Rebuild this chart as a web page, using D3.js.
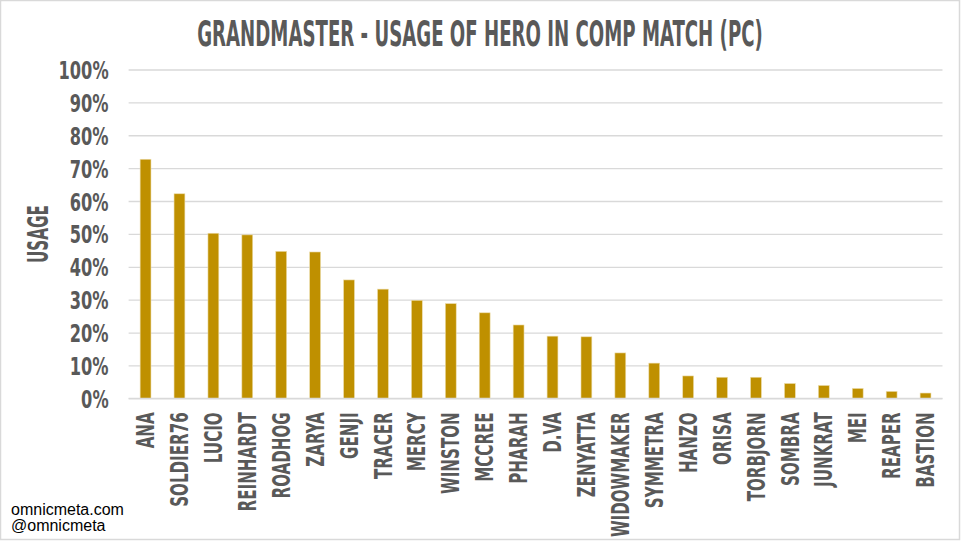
<!DOCTYPE html>
<html>
<head>
<meta charset="utf-8">
<script src="https://cdn.jsdelivr.net/npm/d3@7"></script>
<style>
  body { margin: 0; background: #fff; }
  svg { display: block; }
</style>
</head>
<body>
<script>
// hero usage, grandmaster, comp match (pc)
var heroes = ["ANA", "SOLDIER76", "LUCIO", "REINHARDT", "ROADHOG", "ZARYA", "GENJI", "TRACER",
              "MERCY", "WINSTON", "MCCREE", "PHARAH", "D.VA", "ZENYATTA", "WIDOWMAKER", "SYMMETRA",
              "HANZO", "ORISA", "TORBJORN", "SOMBRA", "JUNKRAT", "MEI", "REAPER", "BASTION"];
var usage = [72.7, 62.2, 50.2, 49.7, 44.7, 44.5, 36.0, 33.2,
             29.8, 28.8, 26.0, 22.3, 18.9, 18.7, 13.8, 10.7,
             6.8, 6.4, 6.4, 4.5, 3.9, 3.0, 2.1, 1.6];
var yTicks = [0, 10, 20, 30, 40, 50, 60, 70, 80, 90, 100];

var W = 961, H = 541;
var cond = "'Liberation Sans Narrow', 'DejaVu Sans Condensed', 'Roboto Condensed', sans-serif";
var grey = "#595959";

var svg = d3.select("body").append("svg")
            .attr("width", W)
            .attr("height", H);

// frame
svg.append("rect")
   .attr("x", 0.5).attr("y", 0.5).attr("width", W - 2).attr("height", H - 2)
   .attr("fill", "#fff").attr("stroke", "#d9d9d9").attr("stroke-width", 1.5);

var x = d3.scaleBand().domain(heroes).range([128.6, 942.5]).paddingInner(0.68).paddingOuter(0.34);
var y = d3.scaleLinear().domain([0, 100]).range([398.3, 69.5]);

// squeeze text to look like the narrow titling font
function squeeze(sel, k) {
  sel.each(function() {
    var len = this.getComputedTextLength();
    d3.select(this).attr("textLength", len * k).attr("lengthAdjust", "spacingAndGlyphs");
  });
}

// gridlines + y labels
var yAxis = svg.append("g")
  .attr("transform", "translate(128.6,0)")
  .call(d3.axisLeft(y).tickValues(yTicks).tickFormat(function(d){ return d + "%"; })
          .tickSize(-(942.5 - 128.6)).tickPadding(20));
yAxis.select(".domain").remove();
yAxis.selectAll(".tick line").attr("stroke", "#d9d9d9").attr("stroke-width", 1.3);
yAxis.selectAll(".tick text")
  .attr("fill", grey)
  .style("font-family", cond)
  .style("font-weight", "bold")
  .style("font-size", "25px")
  .attr("dy", "0.36em")
  .call(squeeze, 0.72);

// bars
svg.append("g").selectAll("rect")
  .data(heroes)
  .enter().append("rect")
  .attr("x", function(d){ return x(d); })
  .attr("y", function(d, i){ return y(usage[i]); })
  .attr("width", x.bandwidth())
  .attr("height", function(d, i){ return y(0) - y(usage[i]); })
  .attr("fill", "#bf9000")
  .attr("stroke", "#ecdcaa")
  .attr("stroke-width", 0.6);

// x labels
var xAxis = svg.append("g")
  .attr("transform", "translate(0," + y(0) + ")")
  .call(d3.axisBottom(x).tickSize(0).tickPadding(0));
xAxis.select(".domain").remove();
xAxis.selectAll(".tick text")
  .attr("fill", grey)
  .style("font-family", cond)
  .style("font-weight", "bold")
  .style("font-size", "24px")
  .attr("text-anchor", "end")
  .attr("transform", "rotate(-90)")
  .attr("x", -14)
  .attr("y", 0)
  .attr("dy", "0.36em")
  .call(squeeze, 0.7);

// baseline on top of bars
svg.append("line")
  .attr("x1", 128.6).attr("x2", 942.5)
  .attr("y1", y(0)).attr("y2", y(0))
  .attr("stroke", "#d9d9d9").attr("stroke-width", 1.3);

// title - scaled horizontally so its box stays true
var titleG = svg.append("g");
var title = titleG.append("text")
  .attr("x", 0).attr("y", 0)
  .attr("text-anchor", "middle")
  .attr("fill", grey)
  .style("font-family", cond)
  .style("font-weight", "bold")
  .style("font-size", "35px")
  .text("GRANDMASTER - USAGE OF HERO IN COMP MATCH (PC)");
var tk = 566 / title.node().getComputedTextLength();
titleG.attr("transform", "translate(480,46) scale(" + tk + ",1)");

// y title
svg.append("text")
  .attr("transform", "translate(48,234) rotate(-90)")
  .attr("text-anchor", "middle")
  .attr("fill", grey)
  .style("font-family", cond)
  .style("font-weight", "bold")
  .style("font-size", "28px")
  .text("USAGE")
  .attr("textLength", 58).attr("lengthAdjust", "spacingAndGlyphs");

// footer
svg.append("text")
  .attr("x", 11).attr("y", 515)
  .style("font-family", "'Liberation Sans', Arial, sans-serif")
  .style("font-size", "16px")
  .attr("fill", "#000")
  .text("omnicmeta.com");
svg.append("text")
  .attr("x", 11).attr("y", 531)
  .style("font-family", "'Liberation Sans', Arial, sans-serif")
  .style("font-size", "16px")
  .attr("fill", "#000")
  .text("@omnicmeta");
</script>
</body>
</html>
